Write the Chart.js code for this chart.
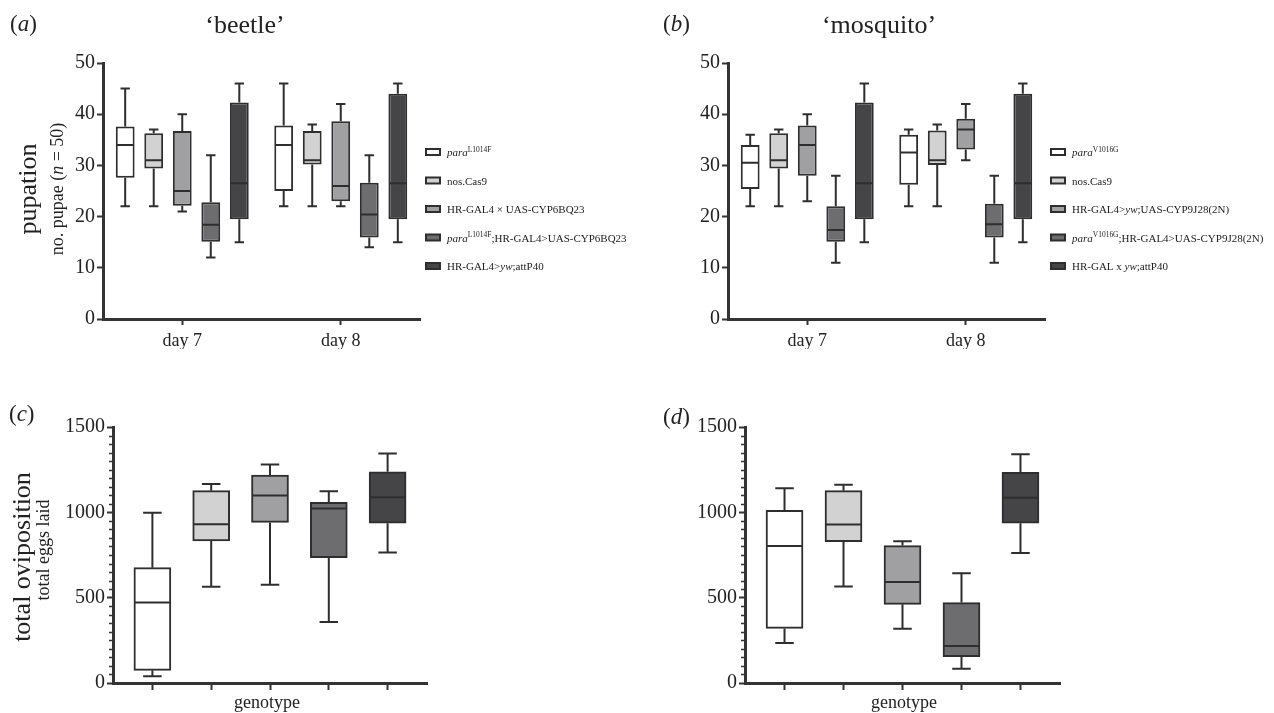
<!DOCTYPE html>
<html>
<head>
<meta charset="utf-8">
<script src="https://cdn.jsdelivr.net/npm/chart.js@4.4.1/dist/chart.umd.min.js"></script>
<style>
  html, body { margin: 0; padding: 0; background: #fff; }
  #page { position: relative; width: 1274px; height: 713px; overflow: hidden; }
  .panel { position: absolute; }
</style>
</head>
<body>
<div id="page">
  <div class="panel" style="left:0;top:0"><canvas id="chartA" width="637" height="356"></canvas></div>
  <div class="panel" style="left:637px;top:0"><canvas id="chartB" width="637" height="356"></canvas></div>
  <div class="panel" style="left:0;top:356px"><canvas id="chartC" width="637" height="357"></canvas></div>
  <div class="panel" style="left:637px;top:356px"><canvas id="chartD" width="637" height="357"></canvas></div>
</div>
<script>
// categories / labels  (_x_ = italic, ^x^ = superscript)
const days = ['day 7', 'day 8'];
const beetleGenotypes = ['_para_^L1014F^', 'nos.Cas9', 'HR-GAL4 × UAS-CYP6BQ23', '_para_^L1014F^;HR-GAL4>UAS-CYP6BQ23', 'HR-GAL4>_yw_;attP40'];
const mosquitoPupationGenotypes = ['_para_^V1016G^', 'nos.Cas9', 'HR-GAL4>_yw_;UAS-CYP9J28(2N)', '_para_^V1016G^;HR-GAL4>UAS-CYP9J28(2N)', 'HR-GAL x _yw_;attP40'];
const mosquitoOvipositionGenotypes = ['_para_^V1016G^', 'nos.Cas9', 'HR-GAL4>_yw_;UAS-CYP9J28(2N)', '_para_^V1016G^;HR-GAL4>UAS-CYP9J28(2N)', 'HR-GAL × _yw_;attP40'];

// box stats: [min, Q1, median, Q3, max]; pupation ones per genotype -> [day 7, day 8]
const beetlePupation = [
  [[22, 27.6, 34, 37.6, 45], [22, 25, 34, 37.8, 46]],
  [[22, 29.4, 31, 36.3, 37], [22, 30.2, 31, 36.7, 38]],
  [[21, 22.1, 25, 36.7, 40], [22, 23, 26, 38.6, 42]],
  [[12, 15.1, 18.4, 22.8, 32], [14, 15.9, 20.4, 26.6, 32]],
  [[15, 19.5, 26.5, 42.3, 46], [15, 19.5, 26.5, 44, 46]]
];
const mosquitoPupation = [
  [[22, 25.4, 30.5, 34, 36], [22, 26.2, 32.5, 36, 37]],
  [[22, 29.4, 31, 36.3, 37], [22, 30.1, 31, 36.8, 38]],
  [[23, 28, 34, 37.8, 40], [31, 33.1, 37, 39.1, 42]],
  [[11, 15.1, 17.4, 22, 28], [11, 15.9, 18.5, 22.5, 28]],
  [[15, 19.5, 26.5, 42.3, 46], [15, 19.5, 26.5, 44, 46]]
];
const beetleOviposition = [
  [39, 74, 471, 676, 998],
  [564, 832, 930, 1127, 1166],
  [576, 941, 1098, 1219, 1281],
  [357, 734, 1023, 1059, 1123],
  [764, 936, 1088, 1238, 1344]
];
const mosquitoOviposition = [
  [234, 320, 803, 1012, 1141],
  [566, 828, 928, 1127, 1162],
  [318, 461, 592, 805, 830],
  [84, 154, 217, 471, 643],
  [762, 936, 1086, 1234, 1340]
];

const pupationTicks = [0, 10, 20, 30, 40, 50];
const ovipositionTicks = [0, 500, 1000, 1500];

const boxColors = ['#ffffff', '#d2d2d3', '#a0a0a2', '#6d6d70', '#454547'];
const lineColor = '#2e2e2e';
const axisColor = '#333333';
const serif = "'Liberation Serif', 'DejaVu Serif', serif";

function richParts(text) {
    return text.split(/(_[^_]+_|\^[^^]+\^)/).filter(p => p).map(p => {
        if (p[0] === '_') return { t: p.slice(1, -1), style: 'italic', scale: 1, dy: 0 };
        if (p[0] === '^') return { t: p.slice(1, -1), style: '', scale: 0.68, dy: -0.4 };
        return { t: p, style: '', scale: 1, dy: 0 };
    });
}

function richWidth(ctx, text, size) {
    let w = 0;
    richParts(text).forEach(p => {
        ctx.font = `${p.style} ${size * p.scale}px ${serif}`;
        w += ctx.measureText(p.t).width;
    });
    return w;
}

function drawRich(ctx, text, x, y, size) {
    richParts(text).forEach(p => {
        ctx.font = `${p.style} ${size * p.scale}px ${serif}`;
        ctx.fillText(p.t, x, y + p.dy * size);
        x += ctx.measureText(p.t).width;
    });
}

// whiskers + median on top of the floating bars
const boxWhiskers = {
    id: 'boxWhiskers',
    afterDatasetsDraw(chart) {
        const ctx = chart.ctx;
        const y = chart.scales.y;
        ctx.save();
        ctx.strokeStyle = lineColor;
        ctx.lineWidth = 2;
        chart.data.datasets.forEach((ds, i) => {
            chart.getDatasetMeta(i).data.forEach((bar, j) => {
                const s = ds.stats[j];
                const half = bar.width / 2;
                const cap = half / 2;
                const x = bar.x;
                const pMin = y.getPixelForValue(s[0]);
                const pQ1 = y.getPixelForValue(s[1]);
                const pMed = y.getPixelForValue(s[2]);
                const pQ3 = y.getPixelForValue(s[3]);
                const pMax = y.getPixelForValue(s[4]);
                ctx.beginPath();
                ctx.moveTo(x, pQ3); ctx.lineTo(x, pMax);
                ctx.moveTo(x - cap, pMax); ctx.lineTo(x + cap, pMax);
                ctx.moveTo(x, pQ1); ctx.lineTo(x, pMin);
                ctx.moveTo(x - cap, pMin); ctx.lineTo(x + cap, pMin);
                ctx.moveTo(x - half + 1, pMed); ctx.lineTo(x + half - 1, pMed);
                ctx.stroke();
            });
        });
        ctx.restore();
    }
};

// panel letters, titles, axis titles, legend, minor ticks
const panelText = {
    id: 'panelText',
    afterDraw(chart, args, o) {
        const ctx = chart.ctx;
        ctx.save();
        ctx.fillStyle = '#222';
        ctx.textBaseline = 'alphabetic';
        ctx.textAlign = 'left';

        if (o.minorStep) {
            const y = chart.scales.y;
            const left = chart.chartArea.left;
            ctx.strokeStyle = axisColor;
            ctx.lineWidth = 1.5;
            ctx.beginPath();
            for (let v = 0; v <= y.max; v += o.minorStep) {
                if (v % o.majorStep === 0) continue;
                const py = Math.round(y.getPixelForValue(v)) + 0.5;
                ctx.moveTo(left - 4, py);
                ctx.lineTo(left, py);
            }
            ctx.stroke();
        }

        drawRich(ctx, o.panel.text, o.panel.x, o.panel.y, o.panel.size);
        if (o.title) {
            const w = richWidth(ctx, o.title.text, o.title.size);
            drawRich(ctx, o.title.text, o.title.x - w / 2, o.title.y, o.title.size);
        }
        (o.yTitles || []).forEach(t => {
            ctx.save();
            ctx.translate(t.x, t.y);
            ctx.rotate(-Math.PI / 2);
            const w = richWidth(ctx, t.text, t.size);
            drawRich(ctx, t.text, -w / 2, 0, t.size);
            ctx.restore();
        });
        if (o.xTitle) {
            const w = richWidth(ctx, o.xTitle.text, o.xTitle.size);
            drawRich(ctx, o.xTitle.text, o.xTitle.x - w / 2, o.xTitle.y, o.xTitle.size);
        }

        const lg = o.legend;
        lg.items.forEach((item, i) => {
            const cy = lg.y + i * lg.dy;
            ctx.fillStyle = lineColor;
            ctx.fillRect(lg.x, cy - 4, 16, 8);
            ctx.fillStyle = boxColors[i];
            ctx.fillRect(lg.x + 2, cy - 2, 12, 4);
            ctx.fillStyle = '#222';
            drawRich(ctx, item, lg.textX, cy + 4, lg.size);
        });
        ctx.restore();
    }
};

function yAxis(max, ticks, size) {
    return {
        min: 0,
        max: max,
        afterBuildTicks: s => { s.ticks = ticks.map(v => ({ value: v })); },
        afterFit: s => { s.width = 50; },
        grid: { drawOnChartArea: false, tickLength: 6, tickWidth: 2, tickColor: axisColor },
        border: { color: axisColor, width: 3 },
        ticks: { color: '#222', padding: 2, font: { family: serif, size: size }, callback: v => String(v) }
    };
}

function pupationChart(id, stats, genotypes, pad, text) {
    return new Chart(document.getElementById(id), {
        type: 'bar',
        data: {
            labels: days,
            datasets: genotypes.map((g, i) => ({
                label: g,
                stats: stats[i],
                data: stats[i].map(s => [s[1], s[3]]),
                backgroundColor: boxColors[i],
                borderColor: lineColor,
                borderWidth: 2,
                borderSkipped: false,
                categoryPercentage: 0.9,
                barPercentage: 0.66
            }))
        },
        options: {
            responsive: false,
            animation: false,
            layout: { padding: pad },
            plugins: {
                legend: { display: false },
                tooltip: { enabled: false },
                panelText: Object.assign(text, {
                    legend: { x: text.legendX, textX: text.legendX + 22, y: 152, dy: 28.5, size: 11, items: genotypes }
                })
            },
            scales: {
                x: {
                    afterFit: s => { s.height = 30; },
                    grid: { offset: false, drawOnChartArea: false, tickLength: 6, tickWidth: 2, tickColor: axisColor },
                    border: { color: axisColor, width: 3 },
                    ticks: { color: '#222', padding: 5, font: { family: serif, size: 18 } }
                },
                y: yAxis(50, pupationTicks, 20)
            }
        },
        plugins: [boxWhiskers, panelText]
    });
}

function ovipositionChart(id, stats, genotypes, pad, text) {
    return new Chart(document.getElementById(id), {
        type: 'bar',
        data: {
            datasets: genotypes.map((g, i) => ({
                label: g,
                stats: [stats[i]],
                data: [{ x: i + 1, y: [stats[i][1], stats[i][3]] }],
                backgroundColor: boxColors[i],
                borderColor: lineColor,
                borderWidth: 2,
                borderSkipped: false,
                grouped: false,
                barThickness: 37
            }))
        },
        options: {
            responsive: false,
            animation: false,
            layout: { padding: pad },
            plugins: {
                legend: { display: false },
                tooltip: { enabled: false },
                panelText: Object.assign(text, {
                    minorStep: 50,
                    majorStep: 500,
                    legend: { x: text.legendX, textX: text.legendX + 24, y: 513, dy: 29, size: 11, items: genotypes }
                })
            },
            scales: {
                x: {
                    type: 'linear',
                    min: 0.33,
                    max: 5.67,
                    offset: false,
                    afterBuildTicks: s => { s.ticks = genotypes.map((g, i) => ({ value: i + 1 })); },
                    afterFit: s => { s.height = 24; },
                    grid: { offset: false, drawOnChartArea: false, tickLength: 7, tickWidth: 2, tickColor: axisColor },
                    border: { color: axisColor, width: 3 },
                    ticks: { callback: () => '', font: { family: serif, size: 18 } }
                },
                y: yAxis(1500, ovipositionTicks, 20)
            }
        },
        plugins: [boxWhiskers, panelText]
    });
}

pupationChart('chartA', beetlePupation, beetleGenotypes,
    { left: 53, right: 217, top: 63, bottom: 7 },
    {
        panel: { text: '(_a_)', x: 10, y: 31, size: 23 },
        title: { text: '‘beetle’', x: 245, y: 33, size: 26 },
        yTitles: [
            { text: 'pupation', x: 36, y: 189, size: 26 },
            { text: 'no. pupae (_n_ = 50)', x: 63, y: 189, size: 18 }
        ],
        legendX: 425
    });

pupationChart('chartB', mosquitoPupation, mosquitoPupationGenotypes,
    { left: 41, right: 229, top: 63, bottom: 7 },
    {
        panel: { text: '(_b_)', x: 26, y: 31, size: 23 },
        title: { text: '‘mosquito’', x: 242, y: 33, size: 26 },
        legendX: 413
    });

ovipositionChart('chartC', beetleOviposition, beetleGenotypes,
    { left: 63, right: 210, top: 71, bottom: 6 },
    {
        panel: { text: '(_c_)', x: 9, y: 65, size: 23 },
        yTitles: [
            { text: 'total oviposition', x: 30, y: 201, size: 26 },
            { text: 'total eggs laid', x: 49, y: 194, size: 18 }
        ],
        xTitle: { text: 'genotype', x: 267, y: 352, size: 18 },
        legendX: 432
    });

ovipositionChart('chartD', mosquitoOviposition, mosquitoOvipositionGenotypes,
    { left: 58, right: 214, top: 71, bottom: 6 },
    {
        panel: { text: '(_d_)', x: 26, y: 68, size: 23 },
        xTitle: { text: 'genotype', x: 267, y: 352, size: 18 },
        legendX: 428
    });
</script>
</body>
</html>
